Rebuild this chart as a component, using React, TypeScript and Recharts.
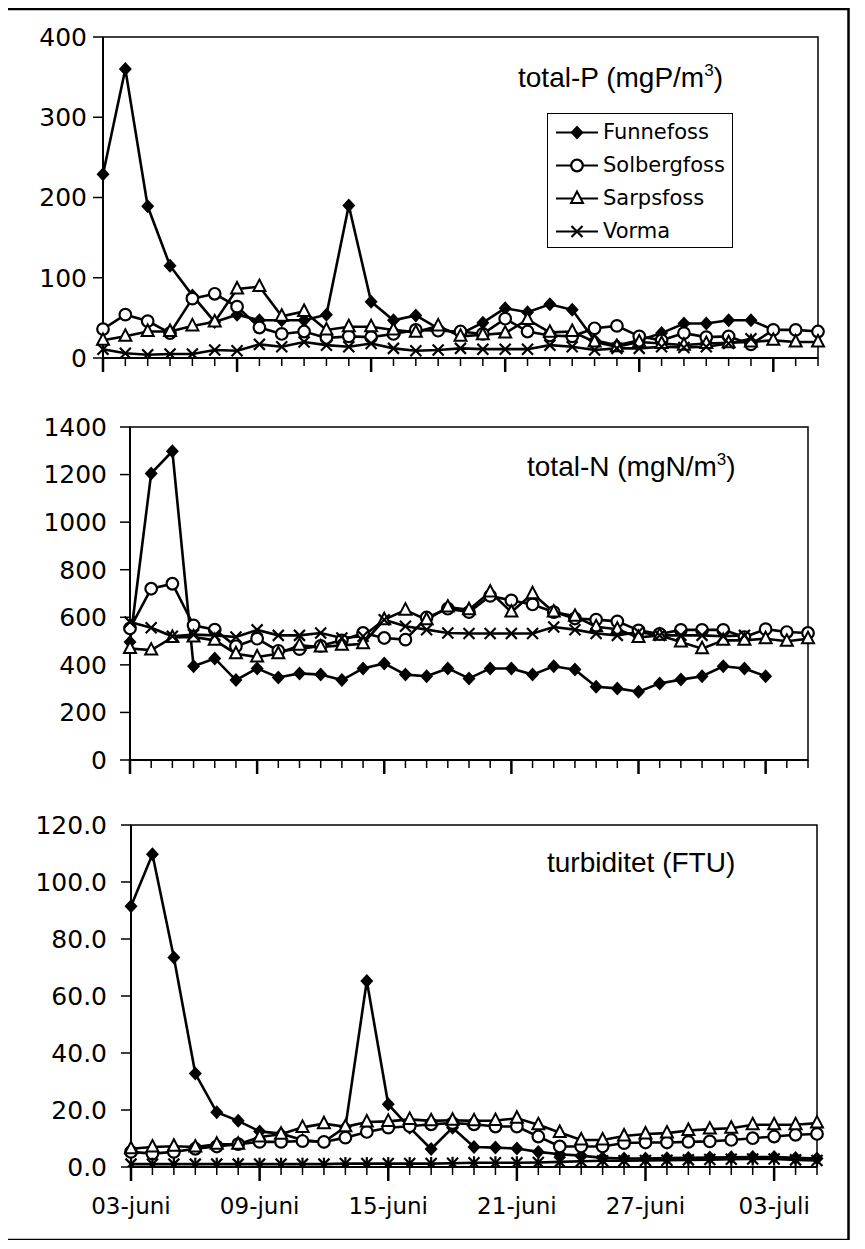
import React from "react";
import { LineChart, Line, XAxis, YAxis, ReferenceArea, Legend } from "recharts";

// 03-juni .. 05-juli, one sample per day
const dates = [
  "03-juni", "04-juni", "05-juni", "06-juni", "07-juni", "08-juni", "09-juni", "10-juni",
  "11-juni", "12-juni", "13-juni", "14-juni", "15-juni", "16-juni", "17-juni", "18-juni",
  "19-juni", "20-juni", "21-juni", "22-juni", "23-juni", "24-juni", "25-juni", "26-juni",
  "27-juni", "28-juni", "29-juni", "30-juni", "01-juli", "02-juli", "03-juli", "04-juli", "05-juli",
];

// total-P (mgP/m3)
const funnefossP = [229, 360, 189, 115, 78, 45, 54, 47, 47, 47, 54, 190, 70, 47, 53, 37, 30, 44, 62, 57, 67, 60, 22, 16, 22, 31, 43, 43, 47, 47, 35, null, null];
const solbergfossP = [36, 54, 46, 31, 74, 80, 64, 38, 30, 33, 25, 27, 26, 30, 35, 34, 33, 30, 49, 33, 28, 27, 37, 40, 27, 22, 31, 26, 27, 17, 35, 35, 33];
const sarpsfossP = [22, 27, 33, 33, 40, 45, 86, 89, 52, 58, 35, 39, 39, 35, 32, 40, 27, 29, 31, 48, 32, 33, 20, 14, 20, 18, 16, 18, 19, 20, 22, 20, 20];
const vormaP = [11, 6, 4, 5, 5, 10, 9, 17, 14, 20, 16, 14, 18, 12, 9, 10, 12, 11, 11, 11, 16, 14, 10, 12, 12, 14, 13, 14, 18, 24, null, null, null];

// total-N (mgN/m3)
const funnefossN = [496, 1205, 1298, 394, 427, 336, 385, 347, 364, 359, 336, 385, 406, 359, 352, 385, 343, 385, 385, 359, 394, 380, 308, 301, 287, 322, 338, 352, 394, 385, 352, null, null];
const solbergfossN = [553, 720, 741, 566, 548, 478, 510, 459, 466, 480, 503, 534, 513, 506, 599, 636, 622, 690, 671, 654, 622, 595, 590, 583, 545, 530, 547, 547, 547, 517, 550, 538, 534];
const sarpsfossN = [469, 462, 515, 517, 503, 447, 433, 447, 482, 475, 482, 489, 590, 630, 590, 643, 632, 706, 622, 699, 622, 604, 560, 550, 515, 524, 496, 468, 503, 503, 510, 499, 510];
const vormaN = [580, 556, 520, 527, 524, 517, 547, 524, 524, 534, 513, 520, 590, 562, 548, 534, 532, 532, 532, 532, 559, 548, 532, 524, 538, 524, 524, 524, 520, 524, null, null, null];

// turbiditet (FTU)
const funnefossT = [91.5, 109.7, 73.5, 32.8, 19.2, 16.2, 12.5, 11.7, 9.5, 8.8, 14, 65.3, 22, 13.8, 6.3, 13.8, 7, 6.8, 6.5, 5.3, 4.5, 4, 3.2, 3, 3, 3.1, 3.2, 3.3, 3.4, 3.5, 3.5, 3.2, 3];
const solbergfossT = [5.3, 4.7, 5.3, 6.4, 7.2, 8, 8.8, 8.8, 9.1, 8.8, 10.3, 12.3, 13.8, 14.3, 15, 15.4, 15, 14.2, 14.2, 10.7, 7.2, 7.2, 7.2, 8.4, 8.6, 8.6, 8.8, 9, 9.5, 10.1, 10.7, 11.3, 11.6];
const sarpsfossT = [6.4, 7, 7.3, 7, 8, 8, 10.5, 11.5, 13.9, 15.2, 14.1, 15.8, 16, 16.7, 16.2, 16.4, 16.2, 16.3, 17.1, 14.8, 12.1, 9.5, 9.5, 10.9, 11.6, 11.9, 12.8, 13.3, 13.6, 14.8, 14.8, 14.8, 15.4];
const vormaT = [1, 1, 1, 1, 1, 1, 1, 1, 1, 1, 1.2, 1.2, 1.2, 1.2, 1.2, 1.3, 1.5, 1.5, 1.5, 1.6, 1.8, 2, 2.2, 2.2, 2.3, 2.4, 2.5, 2.6, 2.7, 2.8, 2.8, 2.5, 2.3];

const ticksP = [0, 100, 200, 300, 400];
const ticksN = [0, 200, 400, 600, 800, 1000, 1200, 1400];
const ticksT = [0, 20, 40, 60, 80, 100, 120];

const names = ["Funnefoss", "Solbergfoss", "Sarpsfoss", "Vorma"];

const build = (a: any[], b: any[], c: any[], d: any[]) =>
  dates.map((date, i) => ({ date, Funnefoss: a[i], Solbergfoss: b[i], Sarpsfoss: c[i], Vorma: d[i] }));

const dataP = build(funnefossP, solbergfossP, sarpsfossP, vormaP);
const dataN = build(funnefossN, solbergfossN, sarpsfossN, vormaN);
const dataT = build(funnefossT, solbergfossT, sarpsfossT, vormaT);

const AXIS_FONT = "DejaVu Sans, sans-serif";
const TITLE_FONT = "Liberation Sans, Arial, sans-serif";

const Marker = ({ shape, cx, cy }: { shape: string; cx: number; cy: number }) => {
  if (shape === "diamond")
    return <polygon points={`${cx},${cy - 7} ${cx + 6.5},${cy} ${cx},${cy + 7} ${cx - 6.5},${cy}`} fill="#000" />;
  if (shape === "circle")
    return <circle cx={cx} cy={cy} r={5.8} fill="#fff" stroke="#000" strokeWidth={2.2} />;
  if (shape === "triangle")
    return (
      <polygon
        points={`${cx},${cy - 7} ${cx + 6},${cy + 4.5} ${cx - 6},${cy + 4.5}`}
        fill="#fff"
        stroke="#000"
        strokeWidth={2}
      />
    );
  return (
    <g stroke="#000" strokeWidth={2.2}>
      <line x1={cx - 5.5} y1={cy - 5.5} x2={cx + 5.5} y2={cy + 5.5} />
      <line x1={cx - 5.5} y1={cy + 5.5} x2={cx + 5.5} y2={cy - 5.5} />
      {shape === "star" ? <line x1={cx} y1={cy - 6.5} x2={cx} y2={cy + 6.5} /> : null}
    </g>
  );
};

const shapeOf = (name: string, vorma: string) =>
  name === "Funnefoss" ? "diamond" : name === "Solbergfoss" ? "circle" : name === "Sarpsfoss" ? "triangle" : vorma;

const XTick = (props: any) => {
  const { x, y, index, payload, showLabel } = props;
  const major = index % 6 === 0;
  return (
    <g>
      <line x1={x} x2={x} y1={y} y2={y + (major ? 14 : 8)} stroke="#000" strokeWidth={major ? 2.5 : 1.5} />
      {showLabel && major ? (
        <text x={x} y={y + 47} textAnchor="middle" fontSize={23} fontFamily={AXIS_FONT} fill="#000">
          {payload.value}
        </text>
      ) : null}
    </g>
  );
};

const LegendBox = ({ payload }: any) => {
  const items = [...(payload || [])].sort((a: any, b: any) => names.indexOf(a.value) - names.indexOf(b.value));
  return (
    <div
      style={{
        border: "1.5px solid #000",
        background: "#fff",
        padding: "2px 0 0 7px",
        height: 135,
        boxSizing: "border-box",
        fontFamily: AXIS_FONT,
        fontSize: 21,
        color: "#000",
      }}
    >
      {items.map((entry: any) => (
        <div key={entry.value} style={{ display: "flex", alignItems: "center", height: 33 }}>
          <svg width={46} height={33}>
            <line x1={1} x2={43} y1={16.5} y2={16.5} stroke="#000" strokeWidth={2} />
            <Marker shape={shapeOf(entry.value, "cross")} cx={22} cy={16.5} />
          </svg>
          <span style={{ marginLeft: 2, lineHeight: "33px" }}>{entry.value}</span>
        </div>
      ))}
    </div>
  );
};

type PanelProps = {
  data: any[];
  top: number;
  height: number;
  margin: { top: number; right: number; bottom: number; left: number };
  xHeight: number;
  domain: [number, number];
  ticks: number[];
  fmt?: (v: number) => string;
  tickMargin: number;
  vorma: string;
  showDates?: boolean;
  legend?: boolean;
};

const Panel = ({ data, top, height, margin, xHeight, domain, ticks, fmt, tickMargin, vorma, showDates, legend }: PanelProps) => (
  <div style={{ position: "absolute", left: 0, top }}>
    <LineChart width={840} height={height} data={data} margin={margin}>
      <XAxis
        dataKey="date"
        interval={0}
        height={xHeight}
        padding={{ left: 0, right: 0 }}
        axisLine={{ stroke: "#000", strokeWidth: 2 }}
        tickLine={false}
        tickSize={0}
        tickMargin={0}
        tick={(p: any) => <XTick {...p} showLabel={showDates} />}
      />
      <YAxis
        domain={domain}
        ticks={ticks}
        interval={0}
        width={70}
        allowDataOverflow
        tickFormatter={fmt}
        axisLine={{ stroke: "#000", strokeWidth: 2 }}
        tickLine={{ stroke: "#000", strokeWidth: 1.5 }}
        tickSize={10}
        tickMargin={tickMargin}
        tick={{ fill: "#000", fontSize: 25, fontFamily: AXIS_FONT }}
      />
      <ReferenceArea
        x1={dates[0]}
        x2={dates[dates.length - 1]}
        y1={domain[0]}
        y2={domain[1]}
        fill="none"
        fillOpacity={0}
        stroke="#000"
        strokeWidth={1.5}
        ifOverflow="visible"
      />
      {names.map((name) => (
        <Line
          key={name}
          dataKey={name}
          name={name}
          stroke="#000"
          strokeWidth={2.6}
          isAnimationActive={false}
          legendType="line"
          dot={(p: any) =>
            p.cx == null || p.cy == null || p.value == null ? (
              <g key={`${name}-${p.index}`} />
            ) : (
              <g key={`${name}-${p.index}`}>
                <Marker shape={shapeOf(name, vorma)} cx={p.cx} cy={p.cy} />
              </g>
            )
          }
          activeDot={false}
        />
      ))}
      {legend ? (
        <Legend
          layout="vertical"
          align="center"
          verticalAlign="middle"
          wrapperStyle={{ left: 539, top: 105, width: 186, height: 135 }}
          content={(p: any) => <LegendBox payload={p.payload} />}
        />
      ) : null}
    </LineChart>
  </div>
);

const Title = ({ left, top, main, tail }: { left: number; top: number; main: string; tail?: string }) => (
  <div
    style={{
      position: "absolute",
      left,
      top,
      fontFamily: TITLE_FONT,
      fontSize: 28,
      lineHeight: "28px",
      color: "#000",
      whiteSpace: "nowrap",
    }}
  >
    {main}
    {tail !== undefined ? (
      <>
        <span style={{ fontSize: 17, position: "relative", top: -11 }}>3</span>
        {tail}
      </>
    ) : null}
  </div>
);

export default function App() {
  return (
    <div style={{ position: "relative", width: 849, height: 1233, background: "#fff" }}>
      <Panel
        data={dataP}
        top={0}
        height={380}
        margin={{ top: 29, right: 30, bottom: 10, left: 25 }}
        xHeight={20}
        domain={[0, 400]}
        ticks={ticksP}
        tickMargin={6}
        vorma="cross"
        legend
      />
      <Panel
        data={dataN}
        top={392}
        height={380}
        margin={{ top: 27, right: 40, bottom: 0, left: 52 }}
        xHeight={20}
        domain={[0, 1400]}
        ticks={ticksN}
        tickMargin={13}
        vorma="cross"
      />
      <Panel
        data={dataT}
        top={782}
        height={450}
        margin={{ top: 35, right: 31, bottom: 18, left: 53 }}
        xHeight={55}
        domain={[0, 120]}
        ticks={ticksT}
        fmt={(v: number) => v.toFixed(1)}
        tickMargin={14}
        vorma="star"
        showDates
      />
      <Title left={510} top={56} main="total-P (mgP/m" tail=")" />
      <Title left={519} top={445} main="total-N (mgN/m" tail=")" />
      <Title left={539} top={841} main="turbiditet (FTU)" />
      <svg
        width={849}
        height={1236}
        style={{ position: "absolute", left: -4, top: -4, zIndex: 5, pointerEvents: "none" }}
      >
        <rect x={2.5} y={5} width={842} height={1231} fill="none" stroke="#000" strokeWidth={2.5} />
      </svg>
    </div>
  );
}
